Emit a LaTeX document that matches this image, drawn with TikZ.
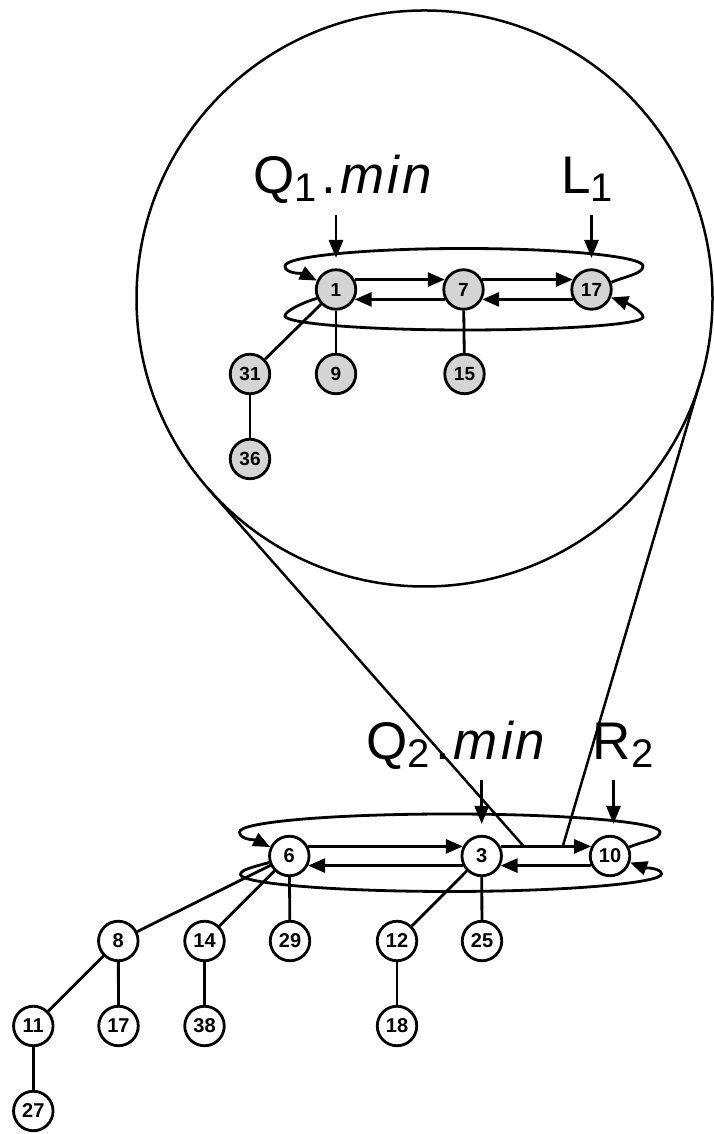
\documentclass[tikz,border=0pt]{standalone}
\usepackage{fontspec}
\setmainfont{Liberation Sans}
\usetikzlibrary{arrows.meta,calc}
\begin{document}
\begin{tikzpicture}[x=1pt,y=1pt,
  hn/.style={circle,draw,line width=2.8pt,minimum size=39.5pt,inner sep=0pt},
  gn/.style={hn,fill=black!17,font=\fontsize{19}{19}\selectfont\bfseries},
  wn/.style={hn,fill=white,font=\fontsize{20}{20}\selectfont\bfseries},
  ed/.style={line width=2.8pt},
  lnk/.style={line width=2.8pt,-{Triangle[length=17pt,width=14pt]}},
  ptr/.style={line width=2.8pt,-{Triangle[length=18pt,width=14pt]}},
  big/.style={font=\fontsize{53}{53}\selectfont,inner sep=0pt,anchor=base west},
  zoomline/.style={line width=2.5pt}
]
\useasboundingbox (0,0) rectangle (714,1134);
\fill[white] (0,0) rectangle (714,1134);

% zoom circle and cone
\node[circle,draw,line width=2.5pt,minimum size=576pt,inner sep=0pt] (zoomc) at (424.5,835.5) {};
\coordinate (tl) at (208.4,645.1);
\coordinate (tr) at (700.6,753.7);
\coordinate (el) at (523,288.5);
\coordinate (er) at (563,288.5);
\draw[zoomline] (tl) -- (el);
\draw[zoomline] (tr) -- (er);

% ---------- top (zoomed) heap ----------
\node[gn] (a1)  at (336,844.5) {1};
\node[gn] (a7)  at (463.5,844.5) {7};
\node[gn] (a17) at (591.5,844.5) {17};
\node[gn] (a31) at (250,760) {31};
\node[gn] (a9)  at (336,760) {9};
\node[gn] (a15) at (464.5,760) {15};
\node[gn] (a36) at (250,675) {36};
\draw[ed] (a1) -- (a31);
\draw[ed] (a1) -- (a9);
\draw[ed] (a7) -- (a15);
\draw[ed] (a31) -- (a36);

\draw[lnk] (a1.28) -- (a7.152);
\draw[lnk] (a7.28) -- (a17.152);
\draw[lnk] (a7.-152) -- (a1.-28);
\draw[lnk] (a17.-152) -- (a7.-28);

\draw[lnk] (a17.20) .. controls +(14,6) and +(0,-8) .. (643,868)
  .. controls +(0,9.5) and +(99,0) .. (464,885.5)
  .. controls +(-99,0) and +(0,9.5) .. (285,868)
  .. controls +(0,-8) and +(-14,7) .. (a1.155);
\draw[lnk] (a1.205) .. controls +(-14,-4) and +(0,5) .. (285,818)
  .. controls +(0,-7.5) and +(-99,0) .. (464,804)
  .. controls +(99,0) and +(0,-7.5) .. (643,817)
  .. controls +(0,6) and +(14,-5) .. (a17.-22);

\node[big] (q1) at (253,940) {Q\raisebox{-8pt}{\fontsize{40}{40}\selectfont 1}\kern5pt.\kern4pt\textit{m\kern3pt i\kern3pt n}};
\node[big] (l1) at (561,940) {L\raisebox{-8pt}{\fontsize{40}{40}\selectfont 1}};
\coordinate (q1s) at ($(a1)+(0,74.5)$);
\coordinate (q1e) at ($(a1)+(0,31.5)$);
\coordinate (l1s) at ($(a17)+(0,74.5)$);
\coordinate (l1e) at ($(a17)+(0,31.5)$);
\draw[ptr] (q1s) -- (q1e);
\draw[ptr] (l1s) -- (l1e);

% ---------- bottom heap ----------
\node[wn] (b6)  at (289.3,278) {6};
\node[wn] (b3)  at (481.7,278) {3};
\node[wn] (b10) at (610,278) {10};
\node[wn] (b8)  at (118.3,193) {8};
\node[wn] (b14) at (204.5,193) {14};
\node[wn] (b29) at (290,193) {29};
\node[wn] (b12) at (397,193) {12};
\node[wn] (b25) at (482,193) {25};
\node[wn] (b11) at (33.3,108) {11};
\node[wn] (b17) at (118.5,108) {17};
\node[wn] (b38) at (204.5,108) {38};
\node[wn] (b18) at (397,108) {18};
\node[wn] (b27) at (33.3,23) {27};
\draw[ed] (b6) -- (b8);
\draw[ed] (b6) -- (b14);
\draw[ed] (b6) -- (b29);
\draw[ed] (b3) -- (b12);
\draw[ed] (b3) -- (b25);
\draw[ed] (b8) -- (b11);
\draw[ed] (b8) -- (b17);
\draw[ed] (b14) -- (b38);
\draw[ed] (b12) -- (b18);
\draw[ed] (b11) -- (b27);

\draw[lnk] (b6.27) -- (b3.153);
\draw[lnk] (b3.27) -- (b10.153);
\draw[lnk] (b3.-153) -- (b6.-27);
\draw[lnk] (b10.-153) -- (b3.-27);

\draw[lnk] (b10.25) .. controls +(14,6) and +(0,-8) .. (660,302)
  .. controls +(0,10) and +(116,0) .. (449.7,320)
  .. controls +(-116,0) and +(0,10) .. (239.5,302)
  .. controls +(0,-8) and +(-14,7) .. (b6.155);
\draw[lnk] (b6.198) .. controls +(-14,-4) and +(0,5) .. (240.5,259.5)
  .. controls +(0,-9) and +(-116,0) .. (450,242.5)
  .. controls +(116,0) and +(0,-9) .. (661.5,260)
  .. controls +(0,6) and +(14,-5) .. (b10.-18);

\node[big] (q2) at (366.5,374) {Q\raisebox{-8pt}{\fontsize{40}{40}\selectfont 2}\kern5pt.\kern4pt\textit{m\kern3pt i\kern3pt n}};
\node[big] (r2) at (592.7,374) {R\raisebox{-8pt}{\fontsize{40}{40}\selectfont 2}};
\coordinate (q2s) at ($(b3)+(0,76)$);
\coordinate (q2e) at ($(b3)+(0,32)$);
\coordinate (r2s) at ($(b10)+(3.5,76)$);
\coordinate (r2e) at ($(b10)+(3.5,32)$);
\draw[ptr] (q2s) -- (q2e);
\draw[ptr] (r2s) -- (r2e);
\end{tikzpicture}
\end{document}
